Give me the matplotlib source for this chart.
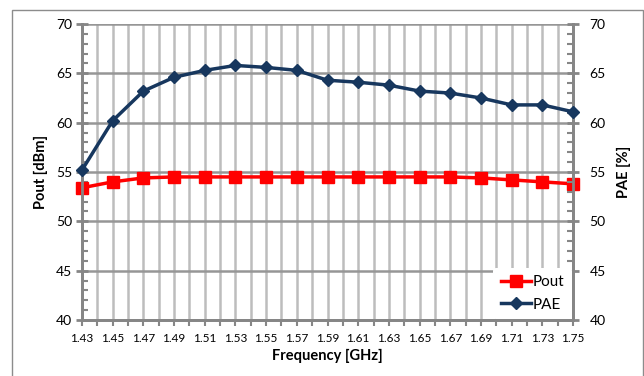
import matplotlib
matplotlib.use("Agg")
import matplotlib.pyplot as plt
from matplotlib.patches import Rectangle
from matplotlib.ticker import MultipleLocator

freq = [1.43, 1.45, 1.47, 1.49, 1.51, 1.53, 1.55, 1.57, 1.59, 1.61, 1.63,
        1.65, 1.67, 1.69, 1.71, 1.73, 1.75]
pout = [53.4, 54.0, 54.4, 54.5, 54.5, 54.5, 54.5, 54.5, 54.5, 54.5, 54.5,
        54.5, 54.5, 54.4, 54.2, 54.0, 53.8]
pae = [55.2, 60.2, 63.2, 64.6, 65.3, 65.8, 65.6, 65.3, 64.3, 64.1, 63.8,
       63.2, 63.0, 62.5, 61.8, 61.8, 61.1]
xticklabels = ["1.43", "1.45", "1.47", "1.49", "1.51", "1.53", "1.55", "1.57",
               "1.59", "1.61", "1.63", "1.65", "1.67", "1.69", "1.71", "1.73", "1.75"]

plt.rcParams['font.family'] = ['Lato', 'DejaVu Sans']

W, H = 644, 376
fig = plt.figure(figsize=(W / 100, H / 100), dpi=100)
fig.patches.append(Rectangle((12 / W, -0.05), (642.5 - 12) / W, 1 - 10 / H + 0.05,
                             transform=fig.transFigure, fill=False,
                             edgecolor='#8c8c8c', linewidth=1.0))

ax = fig.add_axes([82 / W, 1 - 320 / H, (573 - 82) / W, (320 - 24) / H])
ax2 = ax.twinx()

spine_c = '#868686'
vgrid_c = '#bdbdbd'
hgrid_c = '#969696'

ax.set_xlim(1.43, 1.75)
ax.set_ylim(40, 70)
ax2.set_ylim(40, 70)

ax.xaxis.set_minor_locator(MultipleLocator(0.01))
ax.set_xticks(freq)
ax.set_xticklabels(xticklabels)
ax.grid(True, which='both', axis='x', color=vgrid_c, linewidth=1.8)
ax.grid(True, which='major', axis='y', color=hgrid_c, linewidth=1.8)
ax.set_axisbelow(True)

ax.yaxis.set_major_locator(MultipleLocator(5))
ax.yaxis.set_minor_locator(MultipleLocator(1))
ax2.yaxis.set_major_locator(MultipleLocator(5))
ax2.yaxis.set_minor_locator(MultipleLocator(1))

for a in (ax, ax2):
    for s in a.spines.values():
        s.set_color(spine_c)
        s.set_linewidth(2)
    a.spines['top'].set_visible(False)

ax.tick_params(axis='x', which='both', direction='out', length=4, width=1.5,
               color=spine_c, labelsize=8.5, pad=5)
ax.tick_params(axis='y', which='major', direction='inout', length=8, width=2,
               color=spine_c, labelsize=10, pad=3)
ax.tick_params(axis='y', which='minor', direction='in', length=4, width=1.5,
               color=spine_c)
ax2.tick_params(axis='y', which='major', direction='inout', length=8, width=2,
                color=spine_c, labelsize=10, pad=8)
ax2.tick_params(axis='y', which='minor', direction='in', length=4, width=1.5,
                color=spine_c)

ax.set_xlabel('Frequency [GHz]', fontsize=10.5, fontweight='bold', labelpad=4)
ax.set_ylabel('Pout [dBm]', fontsize=10.5, fontweight='bold', labelpad=6)
ax2.set_ylabel('PAE [%]', fontsize=10.5, fontweight='bold', labelpad=8)

l1, = ax.plot(freq, pout, color='#ff0000', linewidth=2.5, marker='s',
              markersize=8, label='Pout', clip_on=False, zorder=4)
l2, = ax2.plot(freq, pae, color='#17375e', linewidth=2.5, marker='D',
               markersize=6.5, label='PAE', clip_on=False, zorder=4)

leg = ax2.legend(handles=[l1, l2], loc='lower right', frameon=True,
                 fontsize=11, handlelength=2.0, handletextpad=0.1,
                 borderaxespad=0.05, borderpad=0.5, labelspacing=0.55)
leg.get_frame().set_edgecolor('none')
leg.get_frame().set_facecolor('white')
leg.get_frame().set_alpha(1.0)

fig.savefig('out.png', dpi=100)
